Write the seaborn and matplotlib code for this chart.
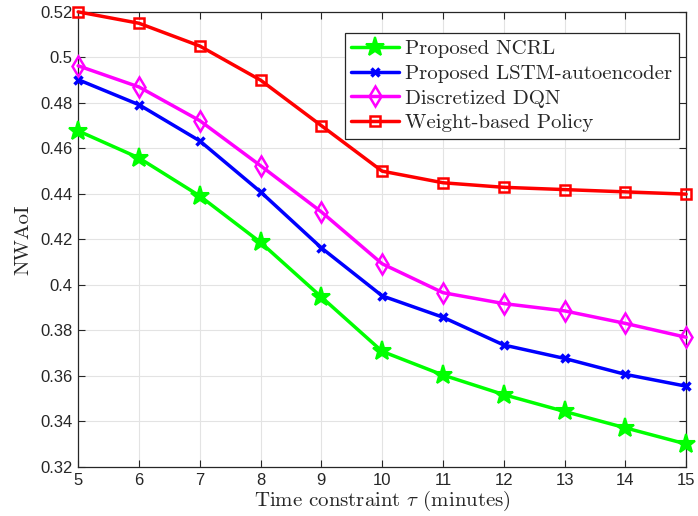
import seaborn as sns
import matplotlib.pyplot as plt
import pandas as pd

tau = [5, 6, 7, 8, 9, 10, 11, 12, 13, 14, 15]
ncrl = [0.4677, 0.4558, 0.4391, 0.4187, 0.3947, 0.3708, 0.3604, 0.3518, 0.3444, 0.3372, 0.3301]
lstm = [0.4902, 0.4792, 0.4633, 0.4409, 0.4163, 0.3952, 0.3858, 0.3736, 0.3677, 0.3607, 0.3555]
dqn = [0.4963, 0.4870, 0.4722, 0.4524, 0.4321, 0.4093, 0.3966, 0.3918, 0.3886, 0.3831, 0.3770]
weight = [0.5200, 0.5150, 0.5050, 0.4900, 0.4700, 0.4500, 0.4449, 0.4429, 0.4419, 0.4409, 0.4399]

names = ['Proposed NCRL', 'Proposed LSTM-autoencoder', 'Discretized DQN', 'Weight-based Policy']
series = [ncrl, lstm, dqn, weight]
colors = ['#00ff00', '#0000ff', '#ff00ff', '#ff0000']
markers = ['*', 'x', 'd', 's']
msizes = [14, 6, 10.5, 7]
mews = [1.5, 2.5, 1.8, 1.8]

sns.set_style('whitegrid')
plt.rcParams['mathtext.fontset'] = 'cm'
plt.rcParams['axes.unicode_minus'] = False

rows = []
for n, s in zip(names, series):
    for t, v in zip(tau, s):
        rows.append({'tau': t, 'val': v, 'method': n})
df = pd.DataFrame(rows)

fig, ax = plt.subplots(figsize=(6.98, 5.16), dpi=100)
fig.subplots_adjust(left=0.112, right=0.983, top=0.977, bottom=0.095)

for i, n in enumerate(names):
    d = df[df['method'] == n]
    sns.lineplot(data=d, x='tau', y='val', ax=ax, color=colors[i], lw=2.5,
                 marker=markers[i], markersize=msizes[i],
                 markerfacecolor='none' if markers[i] in ('d', 's') else colors[i],
                 markeredgecolor=colors[i], markeredgewidth=mews[i], label=n,
                 clip_on=False, zorder=3 + i)

ax.set_xlim(5, 15)
ax.set_ylim(0.32, 0.52)
ax.set_xticks(tau)
yt = [0.32, 0.34, 0.36, 0.38, 0.4, 0.42, 0.44, 0.46, 0.48, 0.5, 0.52]
ax.set_yticks(yt)
ax.set_yticklabels([('%g' % v) for v in yt])
ax.grid(True, color='#e3e3e3', lw=0.8)
ax.set_axisbelow(True)
for sp in ax.spines.values():
    sp.set_color('#262626')
    sp.set_linewidth(0.9)
ax.tick_params(axis='both', labelsize=12, direction='in', length=5, color='#262626', pad=4,
               top=True, right=True, bottom=True, left=True)
for lab in ax.get_xticklabels() + ax.get_yticklabels():
    lab.set_fontfamily('Liberation Sans')
    lab.set_color('#262626')

ax.set_xlabel(r'Time constraint $\tau$ (minutes)', fontsize=15, family='cmr10', labelpad=1)
ax.set_ylabel('NWAoI', fontsize=15, family='cmr10', labelpad=6)

leg = ax.legend(loc='upper right', bbox_to_anchor=(0.998, 0.967), prop={'family': 'cmr10', 'size': 15},
                frameon=True, fancybox=False, edgecolor='#262626', borderpad=0.3,
                labelspacing=0.3, handlelength=2.3, handletextpad=0.3, borderaxespad=0.3)
leg.get_frame().set_linewidth(0.9)
leg.get_frame().set_alpha(1)
leg.set_zorder(10)

plt.savefig('out.png', dpi=100)
